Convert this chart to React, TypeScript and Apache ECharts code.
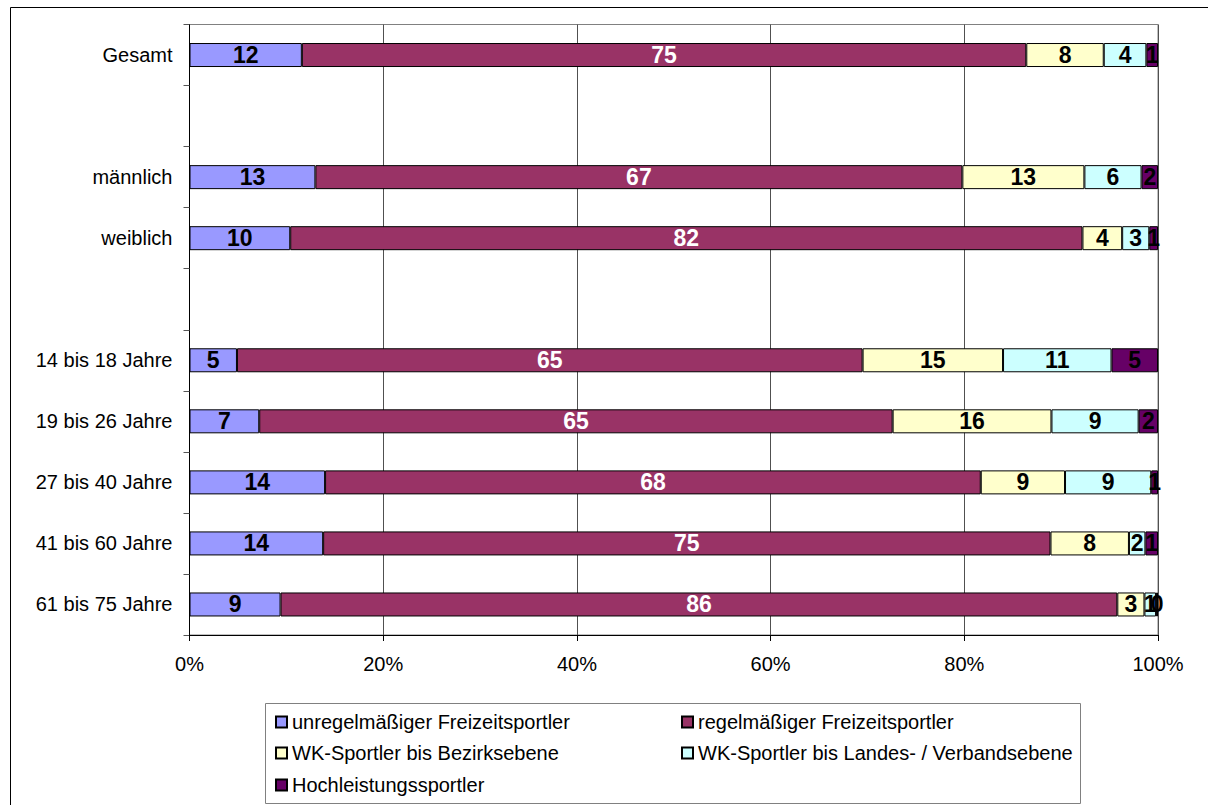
import React, { useEffect, useRef } from "react";
import * as echarts from "echarts";

const categories = [
  "Gesamt",
  "",
  "männlich",
  "weiblich",
  " ",
  "14 bis 18 Jahre",
  "19 bis 26 Jahre",
  "27 bis 40 Jahre",
  "41 bis 60 Jahre",
  "61 bis 75 Jahre",
];

const seriesNames = [
  "unregelmäßiger Freizeitsportler",
  "regelmäßiger Freizeitsportler",
  "WK-Sportler bis Bezirksebene",
  "WK-Sportler bis Landes- / Verbandsebene",
  "Hochleistungssportler",
];

const unregelmaessig = [11.6, null, 13.0, 10.4, null, 4.9, 7.2, 14.0, 13.8, 9.4];
const regelmaessig = [74.8, null, 66.8, 81.8, null, 64.6, 65.4, 67.7, 75.1, 86.4];
const bezirk = [8.0, null, 12.6, 4.1, null, 14.5, 16.4, 8.7, 8.1, 2.8];
const landes = [4.4, null, 5.9, 2.8, null, 11.2, 9.0, 8.9, 1.7, 1.2];
const hochleistung = [1.2, null, 1.7, 0.9, null, 4.8, 2.0, 0.7, 1.3, 0.2];

const xTicks = [0, 20, 40, 60, 80, 100];

const colors = ["#9999FF", "#993366", "#FFFFCC", "#CCFFFF", "#660066"];
const labelColors = ["#000", "#fff", "#000", "#000", "#000"];

const FONT = 'Arial, "Liberation Sans", sans-serif';

export default function App() {
  const ref = useRef<HTMLDivElement>(null);

  useEffect(() => {
    if (!ref.current) return;
    const chart = echarts.init(ref.current, null, { renderer: "svg" });
    const dataSets = [unregelmaessig, regelmaessig, bezirk, landes, hochleistung];

    const series = dataSets.map((d, i) => ({
      name: seriesNames[i],
      type: "bar",
      stack: "total",
      barWidth: 24,
      data: d,
      itemStyle: { color: colors[i], borderColor: "#000", borderWidth: 1 },
      label: {
        show: true,
        position: "inside",
        formatter: (p: any) => String(Math.round(p.value)),
        color: labelColors[i],
        fontFamily: FONT,
        fontWeight: "bold",
        fontSize: 23,
        textBorderWidth: 0,
      },
    }));

    const legendPos = [
      { left: 275, top: 712 },
      { left: 681, top: 712 },
      { left: 275, top: 743 },
      { left: 681, top: 743 },
      { left: 275, top: 775 },
    ];

    const legends = seriesNames.map((n, i) => ({
      data: [n],
      left: legendPos[i].left,
      top: legendPos[i].top,
      padding: 0,
      itemWidth: 11,
      itemHeight: 11,
      icon: "rect",
      textStyle: { color: "#000", fontSize: 20, fontFamily: FONT },
      selectedMode: false,
    }));

    chart.setOption({
      animation: false,
      backgroundColor: "#fff",
      textStyle: { fontFamily: FONT },
      grid: {
        left: 189.5,
        top: 24.5,
        right: 50,
        bottom: 170,
        show: true,
        borderColor: "#808080",
        borderWidth: 1,
        containLabel: false,
      },
      xAxis: {
        type: "value",
        min: xTicks[0],
        max: xTicks[xTicks.length - 1],
        interval: 20,
        axisLine: { show: true, lineStyle: { color: "#000", width: 1 } },
        axisTick: { show: true, length: 6, lineStyle: { color: "#000" } },
        axisLabel: {
          formatter: "{value}%",
          color: "#000",
          fontSize: 20,
          fontFamily: FONT,
          margin: 19,
        },
        splitLine: { show: true, lineStyle: { color: "#505050", width: 1 } },
      },
      yAxis: {
        type: "category",
        inverse: true,
        data: categories,
        axisLine: { show: true, lineStyle: { color: "#000", width: 1 } },
        axisTick: { show: true, length: 6, lineStyle: { color: "#555" } },
        axisLabel: {
          color: "#000",
          fontSize: 20,
          fontFamily: FONT,
          margin: 17,
        },
        splitLine: { show: false },
      },
      legend: legends,
      graphic: [
        {
          type: "rect",
          shape: { x: 10.5, y: 7.5, width: 1300, height: 900 },
          style: { fill: "none", stroke: "#000", lineWidth: 1 },
          silent: true,
        },
        {
          type: "rect",
          shape: { x: 265.5, y: 703.5, width: 815, height: 100 },
          style: { fill: "none", stroke: "#808080", lineWidth: 1 },
          silent: true,
        },
      ],
      series,
    });

    return () => chart.dispose();
  }, []);

  return (
    <div
      ref={ref}
      style={{ position: "fixed", left: 0, top: 0, width: 1208, height: 805 }}
    />
  );
}
